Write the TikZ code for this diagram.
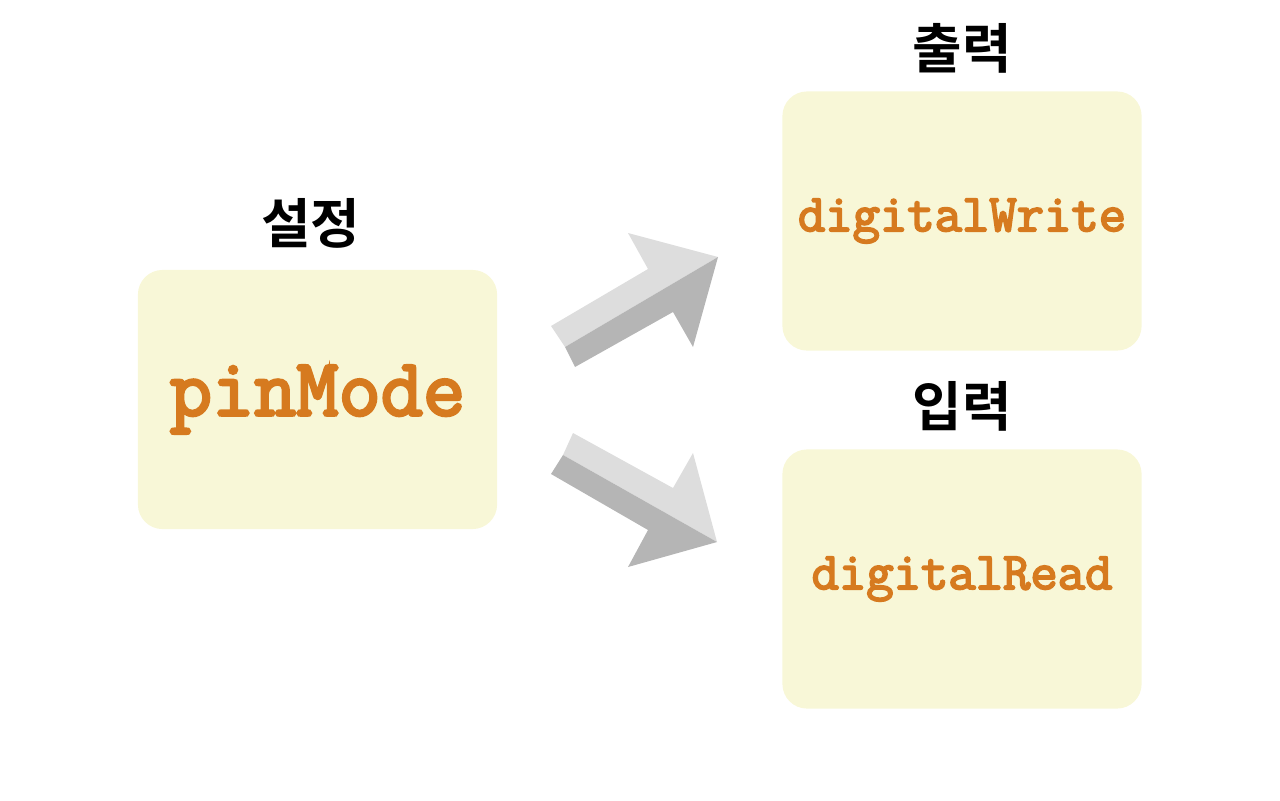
\documentclass[tikz,border=0pt]{standalone}
\usepackage{fontspec}
\usepackage{tikz}
\usetikzlibrary{positioning}
\newfontfamily\hangul{Noto Sans CJK KR}[BoldFont={* Bold}]
\newfontfamily\codefont{Latin Modern Mono}[FakeBold=3.5]
\definecolor{boxfill}{HTML}{F8F7D7}
\definecolor{codeorange}{HTML}{D67A1F}
\definecolor{arrowlight}{HTML}{DDDDDD}
\definecolor{arrowdark}{HTML}{B5B5B5}

\begin{document}
\begin{tikzpicture}[x=0.01cm, y=-0.01cm,
    funcbox/.style={fill=boxfill, rounded corners=7pt, minimum width=3.59cm,
      minimum height=2.59cm, inner sep=0pt, text=codeorange},
    title/.style={font=\hangul\bfseries\fontsize{15.3}{15}\selectfont, inner sep=0pt}]
  \useasboundingbox (0,0) rectangle (1280,800);

  % boxes
  \node[funcbox, font=\codefont\fontsize{23.3}{23}\selectfont] (setup) at (317.5,399.5) {pinMode};
  \node[funcbox, font=\codefont\fontsize{15.1}{15}\selectfont] (write) at (962,221) {digitalWrite};
  \node[funcbox, font=\codefont\fontsize{15.1}{15}\selectfont] (read) at (962,579) {digitalRead};

  % titles
  \node[title, above=0.2cm of setup, xshift=-0.07cm] (setuptitle) {설정};
  \node[title, above=0.17cm of write] (writetitle) {출력};
  \node[title, above=0.17cm of read] (readtitle) {입력};

  % up arrow
  \fill[arrowlight] (551,326) -- (648,269) -- (628,233) -- (718,257) -- (565,347) -- cycle;
  \fill[arrowdark] (565,347) -- (718,257) -- (693,347) -- (673,312) -- (575,367) -- cycle;
  % down arrow
  \fill[arrowlight] (573,433) -- (673,488) -- (693,453) -- (717,542) -- (563,455) -- cycle;
  \fill[arrowdark] (563,455) -- (717,542) -- (628,567) -- (648,530) -- (551,474) -- cycle;
\end{tikzpicture}
\end{document}
